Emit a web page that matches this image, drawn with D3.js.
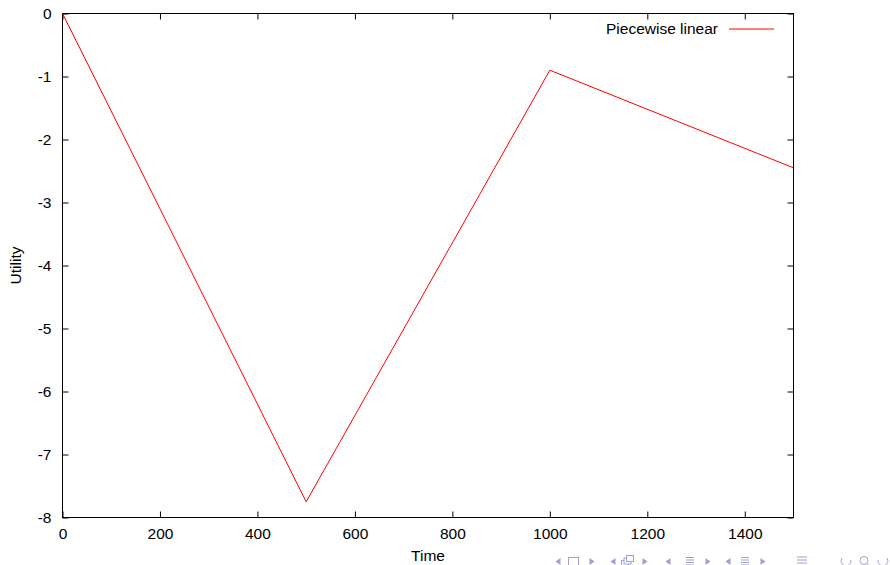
<!DOCTYPE html>
<html>
<head>
<meta charset="utf-8">
<script src="https://cdn.jsdelivr.net/npm/d3@7"></script>
<style>
body { margin: 0; background: #fff; }
svg { display: block; }
text { font-family: "Liberation Sans", Arial, sans-serif; }
</style>
</head>
<body>
<svg id="chart" width="890" height="565"></svg>
<script>
// data
var times = [0, 500, 1000, 1500];
var utility = [0, -7.75, -0.9, -2.45];
var series_name = "Piecewise linear";
var x_ticks = [0, 200, 400, 600, 800, 1000, 1200, 1400];
var y_ticks = [0, -1, -2, -3, -4, -5, -6, -7, -8];

var plot_l = 62.5, plot_r = 793.5, plot_t = 13.5, plot_b = 517.5;
var fs = "15.5px";

var svg = d3.select("#chart");

var x = d3.scaleLinear([0, 1500], [plot_l, plot_r]);
var y = d3.scaleLinear([-8, 0], [plot_b, plot_t]);

// ticks on all four sides, pointing inward (gnuplot mirror)
function ax(g) {
    g.select(".domain").remove();
    g.selectAll(".tick line").attr("stroke", "#000");
    g.selectAll("text").attr("fill", "#000").style("font-size", fs);
}
svg.append("g")
    .attr("transform", "translate(0," + plot_b + ")")
    .call(d3.axisBottom(x).tickValues(x_ticks).tickFormat(d3.format("d"))
	  .tickSizeInner(-6).tickSizeOuter(0).tickPadding(10))
    .call(ax);
svg.append("g")
    .attr("transform", "translate(0," + plot_t + ")")
    .call(d3.axisTop(x).tickValues(x_ticks).tickFormat("")
	  .tickSizeInner(-6).tickSizeOuter(0))
    .call(ax);
svg.append("g")
    .attr("transform", "translate(" + plot_l + ",0)")
    .call(d3.axisLeft(y).tickValues(y_ticks).tickFormat(d => d3.format("d")(d).replace("−", "-"))
	  .tickSizeInner(-6).tickSizeOuter(0).tickPadding(11))
    .call(ax);
svg.append("g")
    .attr("transform", "translate(" + plot_r + ",0)")
    .call(d3.axisRight(y).tickValues(y_ticks).tickFormat("")
	  .tickSizeInner(-6).tickSizeOuter(0))
    .call(ax);

svg.append("rect")
    .attr("x", plot_l).attr("y", plot_t)
    .attr("width", plot_r - plot_l).attr("height", plot_b - plot_t)
    .attr("fill", "none").attr("stroke", "#000").attr("stroke-width", 1);

// the series
var pts = times.map((t, i) => [t, utility[i]]);
svg.append("path")
    .datum(pts)
    .attr("fill", "none")
    .attr("stroke", "#ff0000")
    .attr("stroke-width", 1)
    .attr("d", d3.line().x(d => x(d[0])).y(d => y(d[1])));

// legend
svg.append("text")
    .attr("x", 718).attr("y", 34)
    .attr("text-anchor", "end")
    .style("font-size", fs)
    .text(series_name);
svg.append("line")
    .attr("x1", 729).attr("x2", 774)
    .attr("y1", 29).attr("y2", 29)
    .attr("stroke", "#ff0000").attr("stroke-width", 1);

// axis titles
svg.append("text")
    .attr("x", (plot_l + plot_r) / 2).attr("y", 561)
    .attr("text-anchor", "middle")
    .style("font-size", fs)
    .text("Time");
svg.append("text")
    .attr("transform", "translate(21," + (plot_t + plot_b) / 2 + ") rotate(-90)")
    .attr("text-anchor", "middle")
    .style("font-size", fs)
    .text("Utility");

// beamer navigation symbols
var navc = "#a0a0d4";
var nav = svg.append("g")
    .attr("fill", "none")
    .attr("stroke", navc)
    .attr("stroke-width", 1);
var cy = 561.5;
var lefts = [558, 613, 668, 728], rights = [592, 645, 708, 763];
nav.selectAll(".la").data(lefts).join("path")
    .attr("fill", navc).attr("stroke", "none")
    .attr("d", d => "M" + (d - 2.5) + "," + cy + "L" + (d + 2.5) + "," + (cy - 3.5) + "L" + (d + 2.5) + "," + (cy + 3.5) + "Z");
nav.selectAll(".ra").data(rights).join("path")
    .attr("fill", navc).attr("stroke", "none")
    .attr("d", d => "M" + (d + 2.5) + "," + cy + "L" + (d - 2.5) + "," + (cy - 3.5) + "L" + (d - 2.5) + "," + (cy + 3.5) + "Z");
nav.append("rect").attr("x", 568.5).attr("y", cy - 4).attr("width", 10).attr("height", 8);
[0, 2.5, 5].forEach(o => nav.append("rect")
    .attr("x", 621.5 + o).attr("y", cy - 1 - o).attr("width", 7).attr("height", 6)
    .attr("fill", "#fff"));
[690, 745].forEach(cx => {
    [-4, -1.5, 1, 3.5].forEach(o => nav.append("line")
	.attr("x1", cx - 4).attr("x2", cx + 4).attr("y1", cy + o).attr("y2", cy + o));
});
[-4.5, -1.5, 1.5, 4.5].forEach(o => nav.append("line")
    .attr("x1", 797).attr("x2", 807).attr("y1", cy + o).attr("y2", cy + o));
nav.append("path").attr("d", "M842,558 A5,5 0 1,0 851,560")
    .attr("fill", "none");
nav.append("circle").attr("cx", 864).attr("cy", cy - 1).attr("r", 4);
nav.append("line").attr("x1", 867).attr("y1", cy + 2).attr("x2", 870).attr("y2", cy + 5);
nav.append("path").attr("d", "M887,558 A5,5 0 1,1 878,560")
    .attr("fill", "none");
</script>
</body>
</html>
